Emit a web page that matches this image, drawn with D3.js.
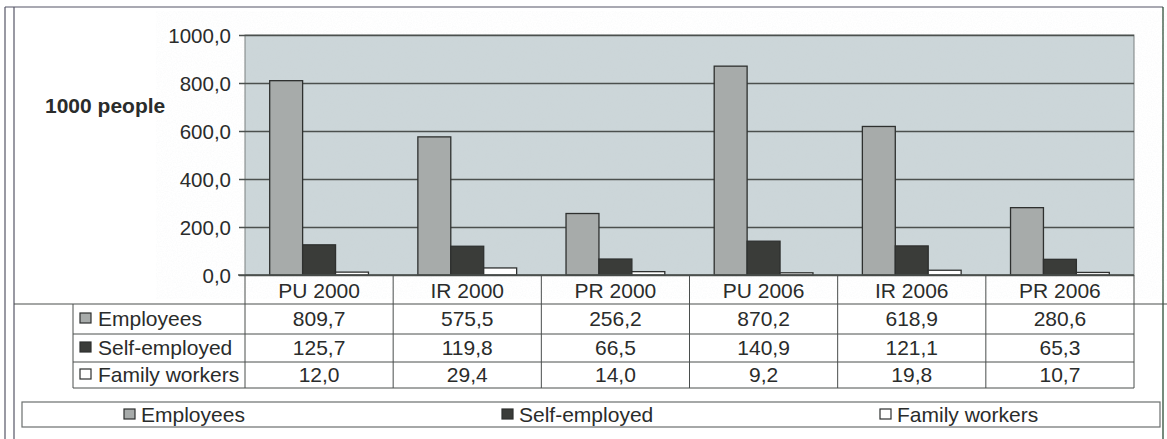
<!DOCTYPE html>
<html>
<head>
<meta charset="utf-8">
<script src="https://cdn.jsdelivr.net/npm/d3@7"></script>
<style>
  body { margin: 0; background: #fff; }
  svg { display: block; font-family: Arial, "Liberation Sans", sans-serif; }
</style>
</head>
<body>
<svg width="1167" height="439"></svg>
<script>
const categories = ["PU 2000", "IR 2000", "PR 2000", "PU 2006", "IR 2006", "PR 2006"];
const seriesNames = ["Employees", "Self-employed", "Family workers"];
const employees = [809.7, 575.5, 256.2, 870.2, 618.9, 280.6];
const selfEmployed = [125.7, 119.8, 66.5, 140.9, 121.1, 65.3];
const familyWorkers = [12.0, 29.4, 14.0, 9.2, 19.8, 10.7];
const yTicks = [0, 200, 400, 600, 800, 1000];
const yLabel = "1000 people";

const seriesValues = [employees, selfEmployed, familyWorkers];
const colors = { "Employees": "#a7abaa", "Self-employed": "#3a3c39", "Family workers": "#ffffff" };
const ink = "#2a2c2b";
const fmt = v => d3.format(".1f")(v).replace(".", ",");

const svg = d3.select("svg");

// scan-like grain
const defs = svg.append("defs");
const f = defs.append("filter").attr("id", "grain");
f.append("feTurbulence").attr("type", "fractalNoise").attr("baseFrequency", 0.8).attr("numOctaves", 2).attr("seed", 3);
f.append("feColorMatrix").attr("type", "matrix")
  .attr("values", "0 0 0 0 0.6  0 0 0 0 0.65  0 0 0 0 0.67  0 0 0 0.8 -0.3");

// outer frame
svg.append("line").attr("x1", 5).attr("x2", 1163).attr("y1", 7).attr("y2", 7).attr("stroke", "#556").attr("stroke-width", 1.2);
svg.append("line").attr("x1", 5).attr("x2", 5).attr("y1", 7).attr("y2", 439).attr("stroke", "#556").attr("stroke-width", 1.2);
svg.append("line").attr("x1", 14).attr("x2", 14).attr("y1", 7).attr("y2", 439).attr("stroke", "#556").attr("stroke-width", 1.2);
svg.append("line").attr("x1", 1163).attr("x2", 1163).attr("y1", 7).attr("y2", 439).attr("stroke", "#3d5a45").attr("stroke-width", 1.4);

const pLeft = 245, pRight = 1134, pTop = 35, pBottom = 275;

const x = d3.scaleBand().domain(categories).range([pLeft, pRight]).padding(0);
const bw = x.bandwidth();
const x1 = d3.scaleBand().domain(seriesNames).range([bw / 6, bw * 5 / 6]).padding(0);
const y = d3.scaleLinear().domain([0, 1000]).range([pBottom, pTop]);

// plot area
svg.append("rect").attr("x", pLeft).attr("y", pTop).attr("width", pRight - pLeft).attr("height", pBottom - pTop)
  .attr("fill", "#ccd6d9");
svg.append("rect").attr("x", pLeft).attr("y", pTop).attr("width", pRight - pLeft).attr("height", pBottom - pTop)
  .attr("filter", "url(#grain)").attr("opacity", 0.25);
svg.append("rect").attr("x", pLeft).attr("y", pTop).attr("width", pRight - pLeft).attr("height", pBottom - pTop)
  .attr("fill", "none").attr("stroke", "#7a8080").attr("stroke-width", 1);

// y axis with gridlines
const yAxis = svg.append("g").attr("transform", `translate(${pLeft},0)`)
  .call(d3.axisLeft(y).tickValues(yTicks).tickSize(-(pRight - pLeft)).tickSizeOuter(0).tickPadding(14).tickFormat(fmt));
yAxis.select(".domain").remove();
yAxis.selectAll(".tick line").attr("stroke", "#4b504e").attr("stroke-width", 1.3).attr("x1", -6);
yAxis.selectAll(".tick text").attr("font-size", 20.5).attr("fill", ink).attr("font-family", "Arial, 'Liberation Sans', sans-serif").attr("dy", "0.35em");

svg.append("text").attr("x", 45).attr("y", 113).attr("font-size", 21).attr("font-weight", "bold").attr("fill", ink).text(yLabel);

// bars
const groups = svg.append("g").selectAll("g").data(categories).join("g")
  .attr("transform", d => `translate(${x(d)},0)`);
groups.selectAll("rect")
  .data((c, i) => seriesNames.map((s, j) => ({ s, v: seriesValues[j][i] })))
  .join("rect")
  .attr("x", d => x1(d.s))
  .attr("y", d => y(d.v))
  .attr("width", x1.bandwidth())
  .attr("height", d => y(0) - y(d.v))
  .attr("fill", d => colors[d.s])
  .attr("stroke", "#2e302f").attr("stroke-width", 1.3);

// x axis line
svg.append("line").attr("x1", 238).attr("x2", pRight).attr("y1", pBottom).attr("y2", pBottom).attr("stroke", "#4b504e").attr("stroke-width", 1.3);

// data table
const rowTops = [275, 304, 334, 362, 388];
const tableLeft = 73;
const lineColor = "#4a4e4d";
const tbl = svg.append("g");
// header row bottom spans the full width
tbl.append("line").attr("x1", 14).attr("x2", 1167).attr("y1", rowTops[1]).attr("y2", rowTops[1]).attr("stroke", lineColor).attr("stroke-width", 1.2);
rowTops.slice(2).forEach(ry => {
  tbl.append("line").attr("x1", tableLeft).attr("x2", pRight).attr("y1", ry).attr("y2", ry).attr("stroke", lineColor).attr("stroke-width", 1);
});
categories.concat([null]).forEach(c => {
  const cx = c ? x(c) : pRight;
  tbl.append("line").attr("x1", cx).attr("x2", cx).attr("y1", pBottom).attr("y2", rowTops[4]).attr("stroke", lineColor).attr("stroke-width", 1);
});
tbl.append("line").attr("x1", tableLeft).attr("x2", tableLeft).attr("y1", rowTops[1]).attr("y2", rowTops[4]).attr("stroke", lineColor).attr("stroke-width", 1);

tbl.selectAll("text.cat").data(categories).join("text").attr("class", "cat")
  .attr("x", d => x(d) + bw / 2).attr("y", (rowTops[0] + rowTops[1]) / 2 + 1).attr("dy", "0.35em")
  .attr("text-anchor", "middle").attr("font-size", 21).attr("fill", ink).text(d => d);

seriesNames.forEach((s, j) => {
  const ry0 = rowTops[j + 1], ry1 = rowTops[j + 2];
  const cy = (ry0 + ry1) / 2;
  tbl.append("rect").attr("x", 80).attr("y", cy - 6).attr("width", 11).attr("height", 10)
    .attr("fill", colors[s]).attr("stroke", "#2e302f").attr("stroke-width", 1.2);
  tbl.append("text").attr("x", 98).attr("y", cy).attr("dy", "0.35em").attr("font-size", 21).attr("fill", ink).text(s);
  tbl.append("g").selectAll("text").data(categories).join("text")
    .attr("x", d => x(d) + bw / 2).attr("y", cy).attr("dy", "0.35em")
    .attr("text-anchor", "middle").attr("font-size", 21).attr("fill", ink)
    .text((d, i) => fmt(seriesValues[j][i]));
});

// legend
const lg = svg.append("g");
lg.append("rect").attr("x", 22).attr("y", 402).attr("width", 1138).attr("height", 25)
  .attr("fill", "none").attr("stroke", "#6b6f6e").attr("stroke-width", 1.2);
const legendX = d3.scalePoint().domain(seriesNames).range([124, 880]);
seriesNames.forEach(s => {
  const lx = legendX(s);
  lg.append("rect").attr("x", lx).attr("y", 409).attr("width", 11).attr("height", 10)
    .attr("fill", colors[s]).attr("stroke", "#2e302f").attr("stroke-width", 1.2);
  lg.append("text").attr("x", lx + 17).attr("y", 415).attr("dy", "0.35em").attr("font-size", 21).attr("fill", ink).text(s);
});
</script>
</body>
</html>
